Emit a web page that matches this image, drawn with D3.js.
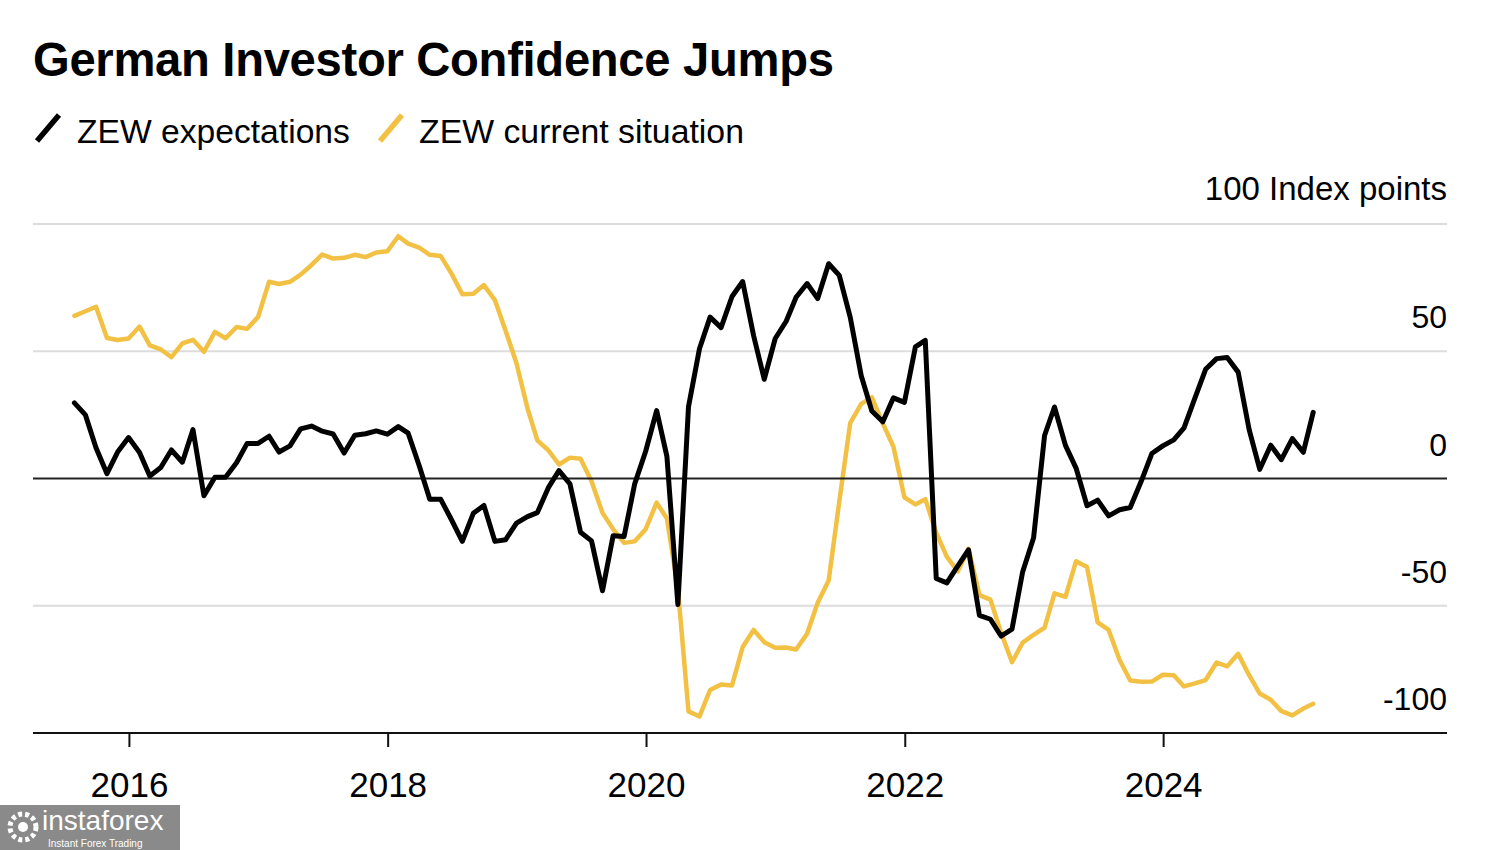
<!DOCTYPE html>
<html>
<head>
<meta charset="utf-8">
<script src="https://cdn.jsdelivr.net/npm/d3@7"></script>
<style>
  html, body { margin: 0; padding: 0; background: #fff; }
  svg text { font-family: "Liberation Sans", Arial, Helvetica, sans-serif; fill: #000; }
</style>
</head>
<body>
<svg id="chart" width="1500" height="850"></svg>
<script>
// ---------- DATA ----------
const title = "German Investor Confidence Jumps";
const seriesNames = ["ZEW expectations", "ZEW current situation"];
const unitLabel = "100 Index points";

const months = [
  "2015-07","2015-08","2015-09","2015-10","2015-11","2015-12",
  "2016-01","2016-02","2016-03","2016-04","2016-05","2016-06","2016-07","2016-08","2016-09","2016-10","2016-11","2016-12",
  "2017-01","2017-02","2017-03","2017-04","2017-05","2017-06","2017-07","2017-08","2017-09","2017-10","2017-11","2017-12",
  "2018-01","2018-02","2018-03","2018-04","2018-05","2018-06","2018-07","2018-08","2018-09","2018-10","2018-11","2018-12",
  "2019-01","2019-02","2019-03","2019-04","2019-05","2019-06","2019-07","2019-08","2019-09","2019-10","2019-11","2019-12",
  "2020-01","2020-02","2020-03","2020-04","2020-05","2020-06","2020-07","2020-08","2020-09","2020-10","2020-11","2020-12",
  "2021-01","2021-02","2021-03","2021-04","2021-05","2021-06","2021-07","2021-08","2021-09","2021-10","2021-11","2021-12",
  "2022-01","2022-02","2022-03","2022-04","2022-05","2022-06","2022-07","2022-08","2022-09","2022-10","2022-11","2022-12",
  "2023-01","2023-02","2023-03","2023-04","2023-05","2023-06","2023-07","2023-08","2023-09","2023-10","2023-11","2023-12",
  "2024-01","2024-02","2024-03","2024-04","2024-05","2024-06","2024-07","2024-08","2024-09","2024-10","2024-11","2024-12",
  "2025-01","2025-02"
];

const expectations = [
  29.7, 25.0, 12.1, 1.9, 10.4, 16.1,
  10.2, 1.0, 4.3, 11.2, 6.4, 19.2, -6.8, 0.5, 0.5, 6.2, 13.8, 13.8,
  16.6, 10.4, 12.8, 19.5, 20.6, 18.6, 17.5, 10.0, 17.0, 17.6, 18.7, 17.4,
  20.4, 17.8, 5.1, -8.2, -8.2, -16.1, -24.7, -13.7, -10.6, -24.7, -24.1, -17.5,
  -15.0, -13.4, -3.6, 3.1, -2.1, -21.1, -24.5, -44.1, -22.5, -22.8, -2.1, 10.7,
  26.7, 8.7, -49.5, 28.2, 51.0, 63.4, 59.3, 71.5, 77.4, 56.1, 39.0, 55.0,
  61.8, 71.2, 76.6, 70.7, 84.4, 79.8, 63.3, 40.4, 26.5, 22.3, 31.7, 29.9,
  51.7, 54.3, -39.3, -41.0, -34.3, -28.0, -53.8, -55.3, -61.9, -59.2, -36.7, -23.3,
  16.9, 28.1, 13.0, 4.1, -10.7, -8.5, -14.7, -12.3, -11.4, -1.1, 9.8, 12.8,
  15.2, 19.9, 31.7, 42.9, 47.1, 47.5, 41.8, 19.2, 3.6, 13.1, 7.4, 15.7,
  10.3, 26.0
];

const currentSituation = [
  63.9, 65.7, 67.5, 55.2, 54.4, 55.0,
  59.7, 52.3, 50.7, 47.7, 53.1, 54.5, 49.8, 57.6, 55.1, 59.5, 58.8, 63.5,
  77.3, 76.4, 77.3, 80.1, 83.9, 88.0, 86.4, 86.7, 87.9, 87.0, 88.8, 89.3,
  95.2, 92.3, 90.7, 87.9, 87.4, 80.6, 72.4, 72.6, 76.0, 70.1, 58.2, 45.3,
  27.6, 15.0, 11.1, 5.5, 8.2, 7.8, -1.1, -13.5, -19.9, -25.3, -24.7, -19.9,
  -9.5, -15.7, -43.1, -91.5, -93.5, -83.1, -80.9, -81.3, -66.2, -59.5, -64.3, -66.5,
  -66.4, -67.2, -61.0, -48.8, -40.1, -9.1, 21.9, 29.3, 31.9, 21.6, 12.5, -7.4,
  -10.2, -8.1, -21.4, -30.8, -36.5, -27.6, -45.8, -47.6, -60.5, -72.2, -64.5, -61.4,
  -58.6, -45.1, -46.5, -32.5, -34.8, -56.5, -59.5, -71.3, -79.4, -79.9, -79.8, -77.1,
  -77.3, -81.7, -80.5, -79.2, -72.3, -73.8, -68.9, -77.3, -84.5, -86.9, -91.4, -93.1,
  -90.4, -88.5
];

const xTickYears = [2016, 2018, 2020, 2022, 2024];
const yGridValues = [100, 50, -50];
const yLabelValues = [50, 0, -50, -100];

// ---------- LAYOUT ----------
const svg = d3.select("#chart");
const plotLeft = 33, plotRight = 1447, plotTop = 224, plotBottom = 733;
const colors = { exp: "#000000", cur: "#f2c144" };
const font = '"Liberation Sans", Arial, Helvetica, sans-serif';

// month -> date at end of month
const parseMonth = d3.timeParse("%Y-%m");
const dates = months.map(m => { const d = parseMonth(m); return new Date(d.getFullYear(), d.getMonth() + 1, 0); });

const x = d3.scaleTime()
  .domain([new Date(2015, 3, 5), new Date(2026, 2, 13)])
  .range([plotLeft, plotRight]);
const y = d3.scaleLinear().domain([-100, 100]).range([plotBottom, plotTop]);

// ---------- TITLE ----------
function fitText(sel, targetWidth) {
  const node = sel.node();
  const w = node.getComputedTextLength();
  const fs = parseFloat(sel.attr("font-size"));
  if (w > 0) sel.attr("font-size", (fs * targetWidth / w).toFixed(2));
}

const t = svg.append("text")
  .attr("x", 33).attr("y", 76)
  .attr("font-size", 44).attr("font-weight", "bold")
  .attr("letter-spacing", "-0.3")
  .text(title);
fitText(t, 800);

// ---------- LEGEND ----------
const legendItems = [
  { name: seriesNames[0], color: colors.exp, sx: 37, tx: 77, w: 273 },
  { name: seriesNames[1], color: colors.cur, sx: 380, tx: 419, w: 325 }
];
legendItems.forEach(it => {
  svg.append("line")
    .attr("x1", it.sx).attr("y1", 141).attr("x2", it.sx + 22).attr("y2", 115)
    .attr("stroke", it.color).attr("stroke-width", 5.5);
  const lt = svg.append("text")
    .attr("x", it.tx).attr("y", 143)
    .attr("font-size", 32)
    .text(it.name);
  fitText(lt, it.w);
});

// ---------- GRID ----------
svg.append("g").selectAll("line")
  .data(yGridValues)
  .join("line")
  .attr("x1", plotLeft).attr("x2", plotRight)
  .attr("y1", d => y(d)).attr("y2", d => y(d))
  .attr("stroke", "#dcdcdc").attr("stroke-width", 2);

// unit label
svg.append("text")
  .attr("x", plotRight).attr("y", y(100) - 24)
  .attr("text-anchor", "end").attr("font-size", 33)
  .text(unitLabel);

// y labels
svg.append("g").selectAll("text")
  .data(yLabelValues)
  .join("text")
  .attr("x", plotRight)
  .attr("y", d => y(d) - 23)
  .attr("text-anchor", "end")
  .attr("font-size", 32)
  .text(d => d);

// ---------- LINES ----------
const line = d3.line()
  .x((d, i) => x(dates[i]))
  .y(d => y(d))
  .curve(d3.curveLinear);

svg.append("path")
  .datum(currentSituation)
  .attr("fill", "none")
  .attr("stroke", colors.cur)
  .attr("stroke-width", 4.5)
  .attr("stroke-linejoin", "round")
  .attr("stroke-linecap", "round")
  .attr("d", line);

// zero line
svg.append("line")
  .attr("x1", plotLeft).attr("x2", plotRight)
  .attr("y1", y(0)).attr("y2", y(0))
  .attr("stroke", "#222").attr("stroke-width", 1.8);

svg.append("path")
  .datum(expectations)
  .attr("fill", "none")
  .attr("stroke", colors.exp)
  .attr("stroke-width", 5)
  .attr("stroke-linejoin", "round")
  .attr("stroke-linecap", "round")
  .attr("d", line);

// ---------- X AXIS ----------
const xAxis = d3.axisBottom(x)
  .tickValues(xTickYears.map(yr => new Date(yr, 0, 1)))
  .tickSize(14)
  .tickFormat(d3.timeFormat("%Y"));

const gx = svg.append("g")
  .attr("transform", `translate(0,${plotBottom})`)
  .call(xAxis);
gx.select(".domain").remove();
gx.selectAll(".tick line").attr("stroke", "#111").attr("stroke-width", 2);
gx.selectAll(".tick text")
  .attr("y", 64).attr("dy", 0)
  .attr("font-size", 35)
  .attr("font-family", font)
  .attr("fill", "#000");

svg.append("line")
  .attr("x1", plotLeft).attr("x2", plotRight)
  .attr("y1", plotBottom).attr("y2", plotBottom)
  .attr("stroke", "#111").attr("stroke-width", 2);

// ---------- WATERMARK ----------
const wm = svg.append("g");
wm.append("rect").attr("x", 0).attr("y", 805).attr("width", 180).attr("height", 45).attr("fill", "#8a8a8a");
wm.append("circle").attr("cx", 23).attr("cy", 827).attr("r", 13).attr("fill", "none").attr("stroke", "#fff").attr("stroke-width", 5).attr("stroke-dasharray", "4 3");
wm.append("circle").attr("cx", 23).attr("cy", 827).attr("r", 5).attr("fill", "#fff");
wm.append("text").attr("x", 42).attr("y", 830).attr("font-size", 28).style("fill", "#fff").text("instaforex");
wm.append("text").attr("x", 48).attr("y", 847).attr("font-size", 10).style("fill", "#fff").text("Instant Forex Trading");
</script>
</body>
</html>
